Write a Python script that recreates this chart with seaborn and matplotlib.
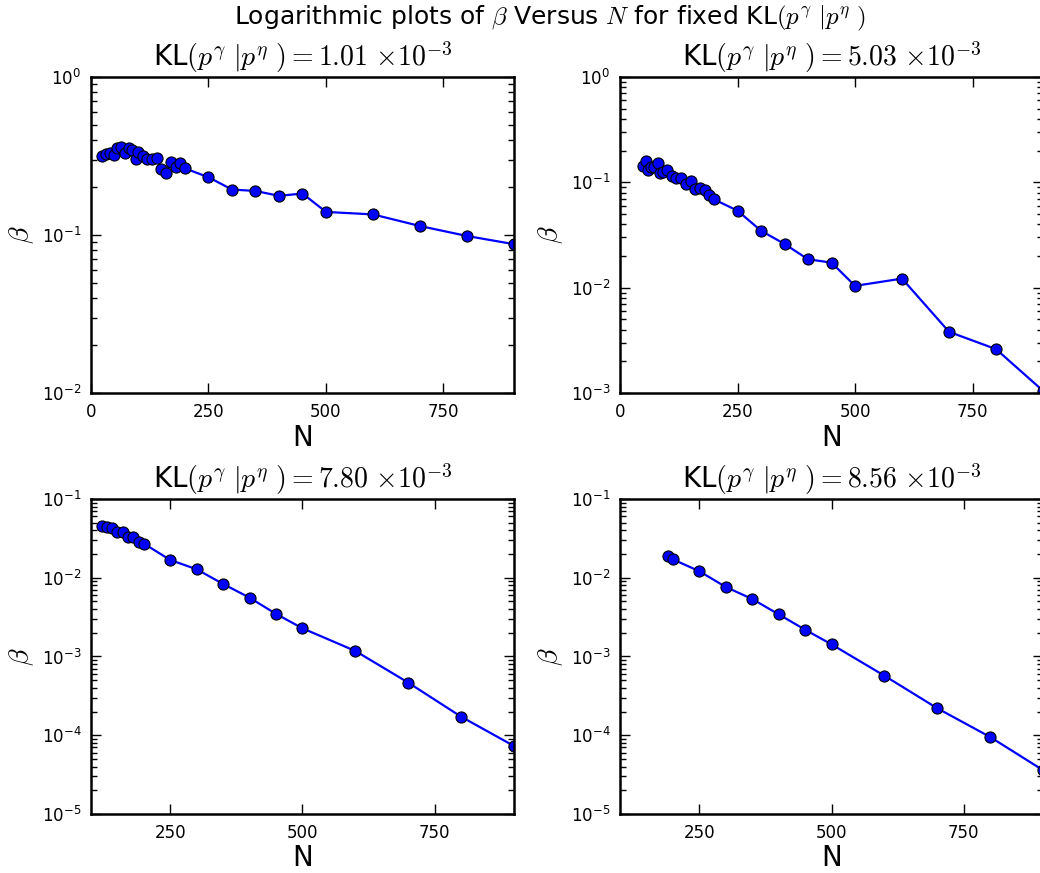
import matplotlib
matplotlib.use("Agg")
import matplotlib.pyplot as plt
import seaborn as sns
import pandas as pd

# data
n_a = [24, 32, 40, 48, 56, 64, 72, 80, 88, 96, 100, 110, 120, 130, 140, 150, 160, 170, 180, 190, 200,
       250, 300, 350, 400, 450, 500, 600, 700, 800, 900]
beta_a = [0.316, 0.326, 0.332, 0.319, 0.354, 0.359, 0.329, 0.354, 0.345, 0.301, 0.337, 0.316, 0.301,
          0.301, 0.307, 0.263, 0.248, 0.288, 0.271, 0.284, 0.264,
          0.232, 0.194, 0.190, 0.177, 0.183, 0.140, 0.135, 0.114, 0.0986, 0.0875]

n_b = [48, 55, 60, 65, 72, 80, 85, 91, 100, 110, 120, 130, 140, 150, 160, 170, 180, 190, 200,
       250, 300, 350, 400, 450, 500, 600, 700, 800, 900]
beta_b = [0.144, 0.159, 0.131, 0.141, 0.139, 0.151, 0.123, 0.126, 0.131, 0.1156, 0.111, 0.1106,
          0.0957, 0.1028, 0.0858, 0.0877, 0.0845, 0.0763, 0.0689,
          0.0538, 0.0347, 0.0260, 0.0186, 0.0173, 0.0104, 0.0122, 0.00381, 0.00261, 0.00105]

n_c = [120, 130, 140, 150, 160, 170, 180, 190, 200, 250, 300, 350, 400, 450, 500, 600, 700, 800, 900]
beta_c = [0.0450, 0.0441, 0.0433, 0.0378, 0.0378, 0.0333, 0.0326, 0.0284, 0.0271, 0.0168, 0.0128,
          0.00833, 0.00558, 0.00347, 0.00228, 0.001175, 0.000466, 0.000172, 0.000073]

n_d = [190, 200, 250, 300, 350, 400, 450, 500, 600, 700, 800, 900]
beta_d = [0.0191, 0.0171, 0.0121, 0.00763, 0.00537, 0.00343, 0.00219, 0.001426, 0.00057, 0.00022,
          0.000095, 0.000036]

kl_labels = ["1.01", "5.03", "7.80", "8.56"]
xlims = [(0, 900), (0, 900), (100, 900), (100, 900)]
ylims = [(1e-2, 1e0), (1e-3, 1e0), (1e-5, 1e-1), (1e-5, 1e-1)]
xticks = [[0, 250, 500, 750], [0, 250, 500, 750], [250, 500, 750], [250, 500, 750]]

sns.set_style("ticks")
plt.rcParams['font.family'] = ['DejaVu Sans']
plt.rcParams['mathtext.fontset'] = 'dejavusans'
plt.rcParams['axes.unicode_minus'] = False
for key in ['text.color', 'axes.labelcolor', 'xtick.color', 'ytick.color', 'axes.edgecolor']:
    plt.rcParams[key] = 'black'

fig = plt.figure(figsize=(10.4, 8.73), dpi=100)
positions = [
    [0.0875, 0.5498, 0.4067, 0.362],
    [0.5962, 0.5498, 0.4067, 0.362],
    [0.0875, 0.0676, 0.4067, 0.3608],
    [0.5962, 0.0676, 0.4067, 0.3608],
]
series = [(n_a, beta_a), (n_b, beta_b), (n_c, beta_c), (n_d, beta_d)]

for i, (n, b) in enumerate(series):
    ax = fig.add_axes(positions[i])
    df = pd.DataFrame({"N": n, "beta": b})
    sns.lineplot(data=df, x="N", y="beta", ax=ax, sort=False, estimator=None,
                 color="#0000ff", lw=1.6, marker="o", markersize=8,
                 markerfacecolor="#0000ff", markeredgecolor="black", markeredgewidth=0.8)
    ax.set_yscale("log")
    ax.set_xlim(*xlims[i])
    ax.set_ylim(*ylims[i])
    ax.set_xticks(xticks[i])
    ax.tick_params(which="both", direction="in", top=True, right=True, labelsize=12, width=1)
    ax.tick_params(which="major", length=7, pad=7)
    ax.tick_params(which="minor", length=4)
    for sp in ax.spines.values():
        sp.set_linewidth(1.8)
    ax.set_xlabel("N", fontsize=20, labelpad=2)
    ax.set_ylabel(r"$\beta$", fontsize=20, math_fontfamily="cm", labelpad=4)
    ax.set_title(r"KL$(p^{\gamma}\ |p^{\eta}\ ){=}%s\ {\times}10^{-3}$" % kl_labels[i],
                 fontsize=20, math_fontfamily="cm", pad=8)

fig.suptitle(r"Logarithmic plots of $\beta$ Versus $N$ for fixed KL$(p^{\gamma}\ |p^{\eta}\ )$",
             x=0.529, y=0.995, fontsize=18, math_fontfamily="cm")

fig.savefig("out.png", dpi=100)
